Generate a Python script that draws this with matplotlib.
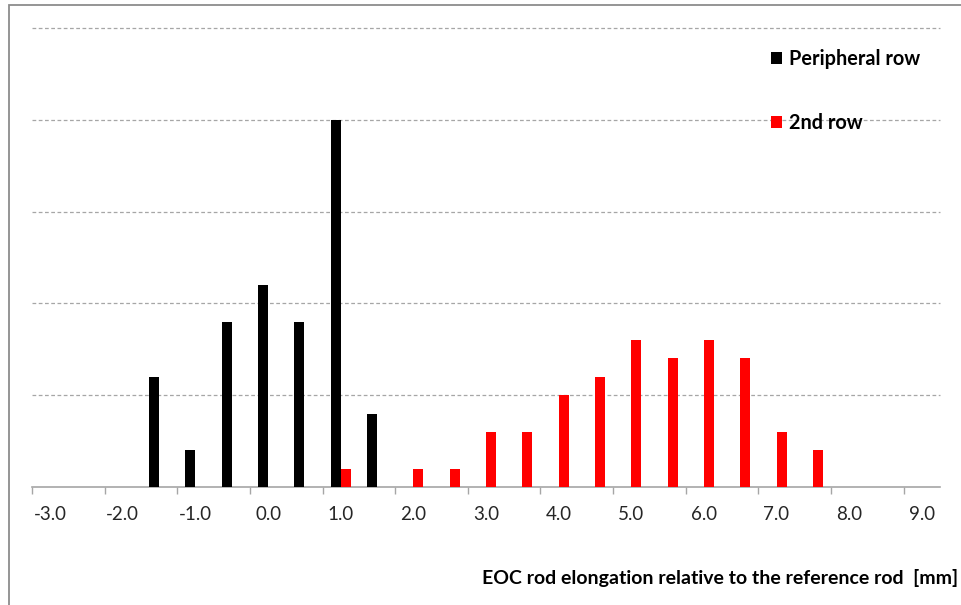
import numpy as np
import matplotlib
matplotlib.use("Agg")
import matplotlib.pyplot as plt
from matplotlib.patches import Patch, Rectangle

plt.rcParams['font.family'] = ['Lato', 'DejaVu Sans']

# categories (mm), 0.5 mm bins
elong = np.arange(-3.0, 9.01, 0.5)
# counts per bin
peripheral = [0, 0, 0, 6, 2, 9, 11, 9, 20, 4, 0, 0, 0, 0, 0, 0, 0, 0, 0, 0, 0, 0, 0, 0, 0]
second_row = [0, 0, 0, 0, 0, 0, 0, 0, 1, 0, 1, 1, 3, 3, 5, 6, 8, 7, 8, 7, 3, 2, 0, 0, 0]
tick_labels = ["%.1f" % v for v in np.arange(-3.0, 9.01, 1.0)]

W, H = 961, 605
fig = plt.figure(figsize=(W / 100, H / 100), dpi=100)
ax = fig.add_axes([32 / W, 1 - 487 / H, (940 - 32) / W, (487 - 28) / H])

# outer chart frame (only top and left edges visible in the crop)
fig.patches.append(Rectangle((8.5 / W, -0.1), 1.2, 1 - 5.5 / H + 0.1,
                             transform=fig.transFigure, fill=False,
                             edgecolor='#8c8c8c', linewidth=1.3))

w = 10 / 72.64
ax.bar(elong - w, peripheral, width=w, align='edge', color='black', zorder=3)
ax.bar(elong, second_row, width=w, align='edge', color='#ff0000', zorder=3)

ax.set_xlim(-3.25, 9.25)
ax.set_ylim(0, 25)

for y in [5, 10, 15, 20, 25]:
    ax.axhline(y, color='#a6a6a6', linewidth=0.9, linestyle=(0, (3, 2)),
               zorder=1, clip_on=False)

for s in ['top', 'right', 'left']:
    ax.spines[s].set_visible(False)
ax.spines['bottom'].set_color('#a6a6a6')
ax.spines['bottom'].set_linewidth(1.2)
ax.set_yticks([])

# tick marks sit between categories, labels on the categories
ax.set_xticks(np.arange(-3.25, 9.0, 1.0))
ax.set_xticklabels([])
ax.tick_params(axis='x', which='major', direction='out', length=5,
               color='#a6a6a6', width=1)
ax.set_xticks(np.arange(-3.0, 9.01, 1.0), minor=True)
ax.set_xticklabels(tick_labels, minor=True, fontsize=13.5, color='#262626')
ax.tick_params(axis='x', which='minor', length=0, pad=14)

fig.text(958 / W, 1 - 578 / H,
         'EOC rod elongation relative to the reference rod  [mm]',
         ha='right', va='center', fontsize=14.0, fontweight='bold',
         color='black')

handles = [Patch(facecolor='black', label='Peripheral row'),
           Patch(facecolor='#ff0000', label='2nd row')]
fig.legend(handles=handles, loc='upper left',
           bbox_to_anchor=(771 / W, 1 - 49 / H), frameon=False,
           prop={'weight': 'bold', 'size': 14.3},
           handlelength=0.55, handleheight=0.55, handletextpad=0.35,
           labelspacing=2.2, borderpad=0, borderaxespad=0)

fig.savefig('out.png', dpi=100)
